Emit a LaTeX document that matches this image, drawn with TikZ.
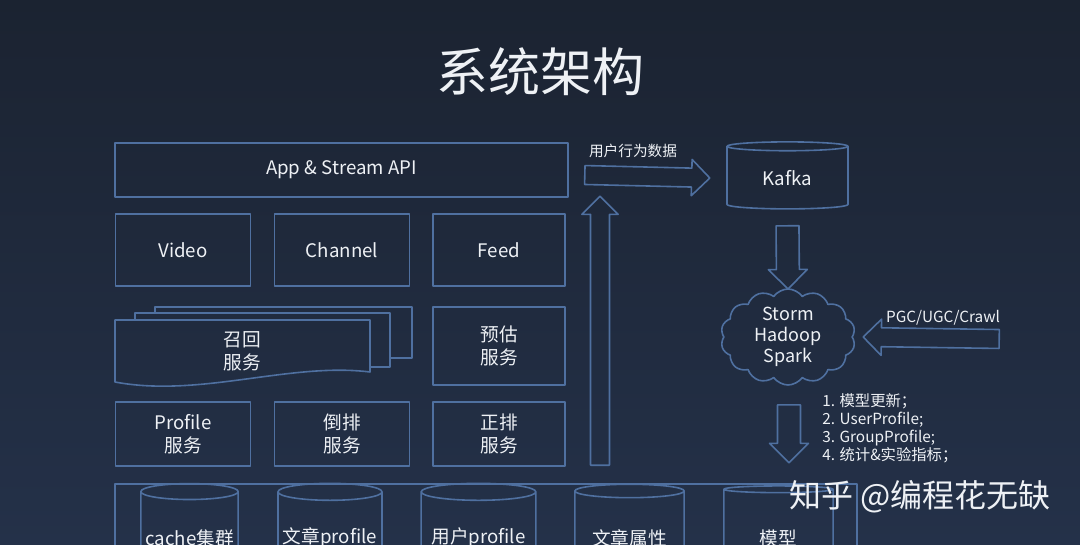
\documentclass[tikz,border=0pt]{standalone}
\usepackage{fontspec}
\setmainfont{Noto Sans CJK SC}
\usepackage{tikz}
\usetikzlibrary{positioning, calc, shapes.geometric, shapes.symbols, shapes.arrows}

\definecolor{bgtop}{HTML}{1B2331}
\definecolor{bgmid}{HTML}{2A3A52}
\definecolor{bgbot}{HTML}{243149}
\definecolor{lineblue}{HTML}{4F70A0}
\definecolor{txt}{HTML}{EEF1F5}

% hollow arrow from one point to another
\newcommand\fatarrow[3][]{%
  \path let \p1=(#2), \p2=(#3), \n1={veclen(\x2-\x1,\y2-\y1)} in
    (#2) -- (#3) node[pos=0, sloped, allow upside down, anchor=tail, fat arrow, minimum height=\n1, #1] {};}

\begin{document}
\begin{tikzpicture}[x=0.75pt, y=-0.75pt, line join=round,
    every node/.style={text=txt, font=\fontsize{14}{17}\selectfont},
    box/.style={draw=lineblue, line width=1.2pt, align=center, minimum width=101pt, minimum height=54pt},
    store/.style={cylinder, shape border rotate=90, draw=lineblue, line width=1.2pt, aspect=0.18, inner sep=0pt},
    fat arrow/.style={single arrow, draw=lineblue, line width=1.2pt, inner sep=0pt, inner ysep=6.5pt,
      single arrow head extend=6.5pt, single arrow tip angle=90}]
  \shade[top color=bgtop, middle color=bgmid, bottom color=bgbot] (0,0) rectangle (1080,545);
  \useasboundingbox (0,0) rectangle (1080,545);

  \node (title) at (540,72) {\fontsize{39}{44}\selectfont 系统架构};

  % services
  \node[box, minimum width=339.75pt, minimum height=40.5pt] (api) at (341.5,170) {App \& Stream API};
  \node[box] (video) at (183,250) {Video};
  \node[box] (channel) at (342,250) {Channel};
  \node[box, minimum width=99pt] (feed) at (499,250) {Feed};

  \node[align=center, minimum width=191pt, minimum height=46pt] (recall) at (242.5,351) {召回\\服务};
  \draw[lineblue, line width=1.2pt] (155,313) -- (155,307) -- (412,307) -- (412,358) -- (390,358);
  \draw[lineblue, line width=1.2pt] (135,320) -- (135,313) -- (390,313) -- (390,367) -- (370,367);
  \draw[lineblue, line width=1.2pt] (115,382) -- (115,320) -- (370,320) -- (370,372)
    .. controls (290,362) and (200,398) .. cycle;

  \node[box, minimum width=99pt, minimum height=58.5pt] (yugu) at (499,346) {预估\\服务};
  \node[box, minimum height=48pt] (profile) at (183,434) {Profile\\服务};
  \node[box, minimum height=48pt] (daopai) at (342,434) {倒排\\服务};
  \node[box, minimum width=99pt, minimum height=48pt] (zhengpai) at (499,434) {正排\\服务};

  % data side
  \node[store, minimum width=90.75pt, minimum height=50.25pt] (kafka) at (787.5,178) {Kafka};
  \node[cloud, cloud puffs=14, cloud puff arc=110, draw=lineblue, line width=1.2pt, aspect=1.35,
    inner sep=0pt, minimum width=101pt, minimum height=72pt, align=center, font=\fontsize{13.5}{15.5}\selectfont]
    (compute) at (788,337) {Storm\\Hadoop\\Spark};

  \coordinate (upin) at (600,466);
  \coordinate (upout) at (600,197);
  \coordinate (logout) at (584,175);
  \coordinate (crawl) at (1000,339);
  \coordinate (syncin) at (789,404);
  \coordinate (syncout) at (789,462);

  \fatarrow{upin}{upout}
  \fatarrow{logout}{kafka.west -| 709,0}
  \fatarrow[inner ysep=8pt, single arrow head extend=6pt]{kafka.south |- 0,225}{compute.north}
  \fatarrow{crawl}{compute.east -| 864,0}
  \fatarrow[inner ysep=8pt, single arrow head extend=6pt]{syncin}{syncout}

  \node[font=\fontsize{11}{13}\selectfont] (log) at (633,151) {用户行为数据};
  \node[font=\fontsize{11.5}{13}\selectfont] (src) at (943,318) {PGC/UGC/Crawl};
  \node[anchor=north west, align=left, inner sep=0pt, font=\fontsize{11.5}{13.6}\selectfont] (sync) at (822,393)
    {1. 模型更新；\\2. UserProfile;\\3. GroupProfile;\\4. 统计\&实验指标；};

  % storage
  \draw[lineblue, line width=1.2pt] (115,600) -- (115,484) -- (857,484) -- (857,600);
  \node[store, minimum width=73pt, minimum height=75pt] (cache) at (189.5,538) {cache集群};
  \node[store, minimum width=78pt, minimum height=75pt] (artprof) at (330,538) {文章profile};
  \node[store, minimum width=86pt, minimum height=75pt] (userprof) at (478.5,538) {用户profile};
  \node[store, minimum width=82pt, minimum height=75pt] (artattr) at (629.5,538) {文章属性};
  \node[store, minimum width=82pt, minimum height=75pt] (model) at (778.5,538) {模型};

  \node[font=\fontsize{24}{28}\selectfont] (mark) at (920,497) {知乎 @编程花无缺};
\end{tikzpicture}
\end{document}
